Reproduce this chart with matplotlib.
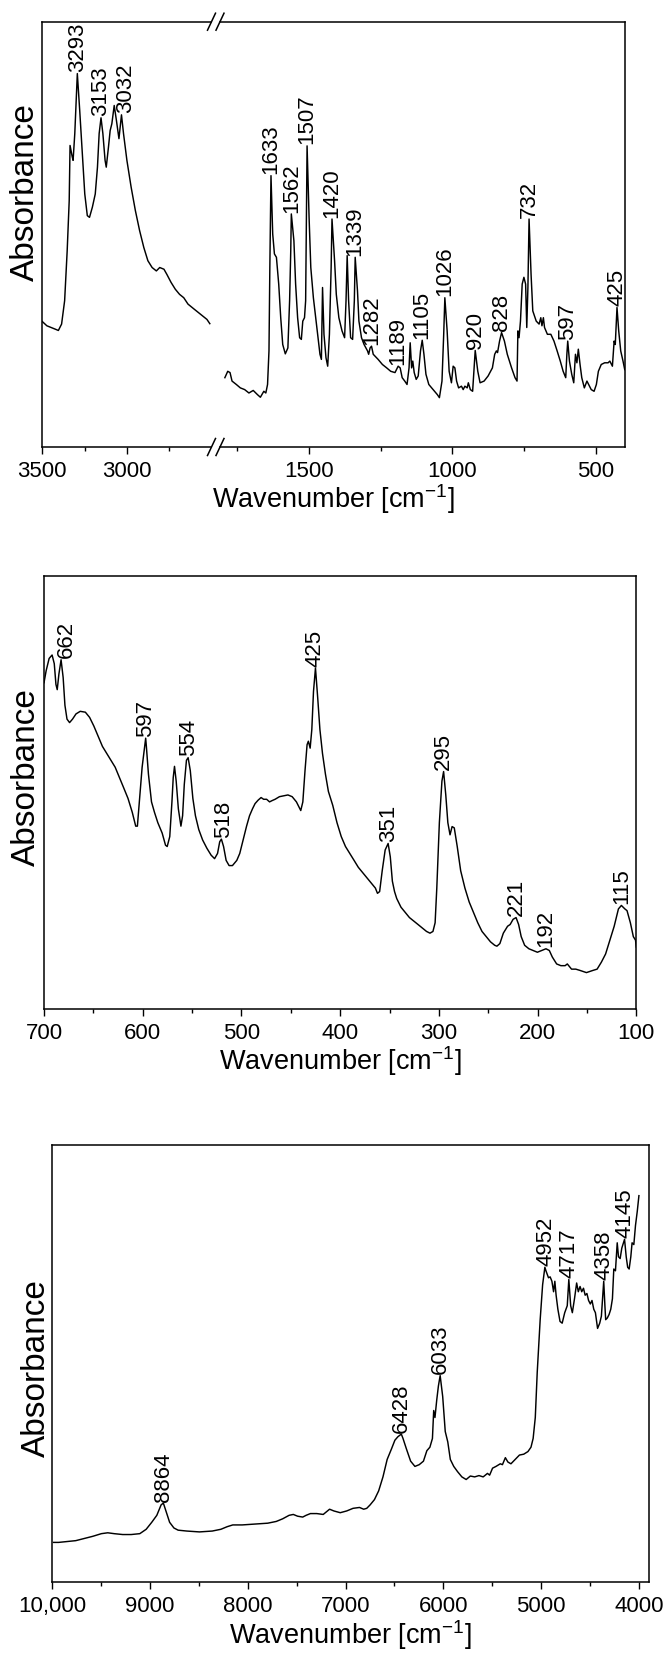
"""Три ИК-спектра (MIR с разрывом оси, FIR, NIR) с подписями пиков."""
import numpy as np
import matplotlib
matplotlib.use("Agg")
import matplotlib.pyplot as plt
from matplotlib.lines import Line2D

plt.rcParams["font.family"] = ["Liberation Sans", "DejaVu Sans"]
plt.rcParams["mathtext.fontset"] = "custom"
plt.rcParams["mathtext.rm"] = "Liberation Sans"
plt.rcParams["mathtext.it"] = "Liberation Sans:italic"
plt.rcParams["mathtext.bf"] = "Liberation Sans:bold"
plt.rcParams["mathtext.default"] = "regular"

# ---------------------------------------------------------------------------
# Data (absorbance in arbitrary units, 0..100 = frame bottom..top)
# ---------------------------------------------------------------------------

# MIR, high-wavenumber part (3500-2500)
mir_hi_wn = [3500, 3473, 3423, 3405, 3386, 3368, 3353, 3341, 3336, 3323, 3318, 3308,
             3293, 3279, 3261, 3249, 3234, 3221, 3204, 3187, 3174, 3164, 3153, 3142,
             3129, 3122, 3109, 3099, 3089, 3075, 3062, 3047, 3032, 3020, 3000, 2975,
             2950, 2925, 2900, 2876, 2851, 2826, 2806, 2781, 2764, 2739, 2714, 2689,
             2664, 2639, 2602, 2577, 2552, 2527, 2510]
mir_hi_ab = [29.5, 28.5, 27.7, 27.4, 28.9, 34.4, 46.1, 57.9, 70.9, 68.2, 67.4, 73.7,
             87.8, 79.2, 67.4, 59.5, 54.4, 54.0, 56.4, 59.5, 65.8, 73.7, 77.4, 73.7,
             67.4, 65.8, 70.5, 74.4, 76.0, 80.3, 76.8, 72.5, 78.1, 73.7, 67.4, 61.1,
             55.6, 50.9, 46.9, 43.8, 42.2, 41.4, 42.2, 41.8, 40.6, 38.7, 37.1, 35.9,
             35.1, 33.6, 32.4, 31.6, 30.8, 30.0, 29.0]

# MIR, fingerprint part (1800-400)
mir_lo_wn = [1794, 1784, 1776, 1769, 1754, 1740, 1725, 1710, 1695, 1680, 1670, 1658,
             1651, 1645, 1640, 1637, 1633, 1627, 1621, 1614, 1606, 1599, 1592, 1583,
             1574, 1568, 1564, 1562, 1553, 1547, 1540, 1533, 1527, 1522, 1516, 1512,
             1507, 1500, 1494, 1485, 1473, 1462, 1457, 1453, 1448, 1441, 1435, 1429,
             1423, 1420, 1411, 1405, 1396, 1385, 1376, 1371, 1367, 1362, 1355, 1348,
             1342, 1339, 1331, 1326, 1317, 1308, 1296, 1292, 1287, 1282, 1276, 1259,
             1244, 1229, 1215, 1200, 1189, 1182, 1175, 1166, 1158, 1151, 1147, 1142,
             1138, 1133, 1126, 1119, 1111, 1105, 1099, 1092, 1082, 1067, 1052, 1045,
             1036, 1030, 1026, 1018, 1011, 1003, 997, 991, 985, 978, 968, 962,
             956, 948, 944, 937, 929, 924, 920, 911, 903, 889, 875, 860,
             852, 846, 842, 835, 828, 818, 808, 793, 781, 774, 771, 767,
             762, 756, 750, 744, 740, 736, 732, 725, 719, 707, 697, 691,
             687, 682, 678, 668, 656, 645, 634, 623, 613, 604, 600, 597,
             591, 583, 576, 570, 565, 560, 554, 548, 539, 530, 524, 515,
             505, 497, 490, 480, 468, 456, 450, 441, 435, 431, 425, 419,
             412, 404, 398]
mir_lo_ab = [16.3, 17.8, 17.5, 15.5, 14.7, 13.9, 13.5, 12.7, 13.3, 12.3, 11.7, 13.1,
             12.7, 14.7, 22.6, 42.2, 63.8, 50.1, 45.4, 44.6, 38.3, 30.4, 24.1, 21.9,
             23.3, 34.4, 46.1, 54.8, 48.5, 38.3, 30.4, 25.7, 25.3, 29.6, 30.4, 34.4,
             70.8, 54.0, 42.2, 35.1, 28.1, 21.8, 20.6, 37.5, 26.5, 21.0, 19.0, 26.5,
             42.2, 53.6, 43.8, 35.9, 30.4, 27.3, 25.7, 34.4, 45.0, 34.4, 25.7, 25.3,
             34.4, 44.6, 36.7, 29.6, 25.7, 24.1, 22.6, 21.8, 23.3, 23.7, 21.8, 20.6,
             19.4, 18.6, 17.8, 17.5, 19.0, 18.6, 16.3, 15.5, 14.7, 18.6, 24.5, 18.6,
             20.2, 17.5, 15.9, 16.7, 22.6, 25.1, 21.8, 17.1, 14.7, 13.5, 12.3, 11.6,
             15.5, 26.5, 35.1, 27.3, 17.8, 15.1, 19.0, 18.6, 15.5, 13.9, 14.3, 13.5,
             14.3, 13.9, 15.1, 13.5, 13.1, 18.6, 22.7, 17.8, 15.1, 15.5, 16.7, 18.6,
             21.8, 22.6, 22.2, 24.9, 26.9, 24.9, 21.8, 18.6, 16.3, 15.5, 27.3, 25.7,
             29.6, 38.3, 39.9, 38.3, 28.1, 37.5, 53.6, 40.6, 32.0, 29.6, 28.9, 30.4,
             28.5, 30.4, 28.1, 26.5, 26.5, 24.9, 22.6, 20.2, 17.8, 16.3, 21.8, 24.9,
             20.2, 17.1, 15.1, 21.8, 19.8, 23.0, 19.4, 16.3, 13.9, 15.5, 14.7, 13.5,
             13.1, 14.7, 17.8, 19.4, 19.8, 19.8, 20.2, 19.0, 24.9, 24.1, 32.8, 27.3,
             22.6, 20.2, 18.2]

mir_hi_labels = ["3293", "3153", "3032"]
mir_hi_label_pos = [3293, 3153, 3005]
mir_lo_labels = ["1633", "1562", "1507", "1420", "1339", "1282", "1189", "1105",
                 "1026", "920", "828", "732", "597", "425"]
mir_lo_label_pos = [1633, 1562, 1507, 1420, 1339, 1282, 1189, 1105,
                    1026, 920, 828, 732, 597, 425]

# FIR (700-100)
fir_wn = [700, 697.8, 694.8, 691.8, 689.6, 687.9, 686.6, 684.9, 682.7, 680.6, 678.8, 676.7,
          674.1, 671.1, 667.6, 663.3, 658.1, 653.8, 649.5, 645.1, 640.8, 636.5, 632.2, 627.9,
          623.5, 619.2, 614.9, 610.6, 607.1, 605.4, 602.8, 600.6, 597, 596.3, 594.2, 591.1,
          588.1, 584.7, 580.3, 576.9, 575.2, 572.6, 570.4, 569.1, 567.8, 566.1, 563.9, 561.3,
          559.6, 557.9, 555.7, 554.0, 551.8, 549.2, 546.6, 543.2, 539.3, 535.0, 530.7, 527.2,
          524.2, 522.0, 520.3, 518.1, 515.5, 512.5, 509.1, 504.7, 501.7, 498.3, 494.8, 491.8,
          488.8, 486.2, 483.1, 480.1, 477.5, 474.5, 471.5, 468.9, 465.9, 461.5, 457.2, 452.9,
          448.6, 444.3, 439.9, 437.8, 435.6, 433.5, 432.2, 430.4, 428.7, 427.0, 425, 422.7,
          420.5, 417.9, 414.9, 411.9, 407.5, 403.2, 398.9, 394.6, 390.2, 385.9, 381.6, 377.3,
          373.0, 368.7, 364.3, 362.2, 360.0, 357.4, 354.4, 351.4, 349.2, 347.1, 344.9, 342.7,
          338.4, 334.1, 329.8, 325.4, 321.1, 316.8, 312.5, 309.0, 306.0, 303.8, 302.1, 299.5,
          296.9, 295.2, 293.0, 290.9, 288.7, 286.6, 284.4, 281.4, 277.9, 273.6, 269.3, 264.9,
          260.6, 256.3, 252.0, 247.7, 243.4, 241.2, 238.2, 234.7, 230.4, 227.8, 224.8, 221.8,
          219.2, 216.6, 213.1, 208.8, 204.5, 200.2, 195.9, 191.5, 188.1, 185.1, 180.7, 176.4,
          172.1, 169.9, 165.6, 161.3, 157.0, 150.5, 144.0, 139.7, 135.4, 131.1, 126.7, 122.4,
          118.1, 115.1, 111.6, 109.4, 106.0, 103.0, 100.8, 100]
fir_ab = [75.3, 78.1, 80.9, 81.7, 79.7, 74.9, 73.7, 77.3, 80.6, 76.5, 70.1, 66.9,
          66.1, 66.9, 68.1, 68.7, 68.5, 67.3, 65.3, 62.9, 60.6, 59.0, 57.4, 55.8,
          53.4, 51.0, 48.6, 45.4, 42.2, 42.2, 49.4, 55.8, 62.5, 60.6, 54.2, 47.8,
          45.4, 43.0, 40.6, 37.8, 37.5, 39.8, 47.8, 53.4, 56.0, 52.6, 46.2, 42.2,
          44.6, 51.8, 57.4, 58.0, 55.0, 48.6, 44.6, 41.4, 39.0, 37.1, 35.5, 34.7,
          35.9, 38.6, 39.2, 37.5, 34.3, 33.1, 33.1, 34.3, 35.9, 39.0, 42.2, 44.6,
          46.2, 47.4, 48.2, 48.8, 48.4, 48.4, 47.8, 48.1, 48.4, 49.0, 49.2, 49.4,
          49.0, 47.8, 45.8, 47.8, 55.0, 61.0, 61.8, 60.2, 64.5, 73.3, 78.7, 71.7,
          64.5, 59.0, 54.2, 50.2, 47.0, 43.0, 39.8, 37.5, 35.9, 34.3, 32.7, 31.5,
          30.3, 29.1, 27.9, 26.7, 27.1, 31.9, 36.7, 38.2, 35.1, 29.5, 27.1, 25.5,
          23.5, 22.3, 21.1, 20.3, 19.5, 18.7, 17.9, 17.5, 17.9, 19.9, 27.9, 43.0,
          52.6, 54.8, 49.4, 43.0, 40.2, 42.1, 41.8, 37.5, 31.9, 27.9, 24.7, 22.3,
          19.9, 17.9, 16.7, 15.5, 14.7, 14.5, 15.1, 17.5, 19.1, 19.5, 20.7, 21.1,
          19.5, 16.7, 14.7, 13.9, 13.5, 13.1, 13.5, 13.9, 13.5, 12.0, 10.4, 10.0,
          10.0, 10.4, 9.2, 9.2, 8.9, 8.4, 8.9, 9.2, 10.8, 12.7, 15.9, 19.1,
          23.1, 23.9, 23.1, 22.7, 19.9, 16.7, 15.9, 14.3]

fir_labels = ["662", "597", "554", "518", "425", "351", "295", "221", "192", "115"]
fir_label_pos = [677, 597, 554, 518, 425, 351, 295, 221, 192, 115]

# NIR (10000-4000)
nir_wn = [9987, 9935, 9847, 9760, 9673, 9585, 9498, 9433, 9367, 9280, 9193, 9105,
          9040, 8983, 8931, 8887, 8864, 8835, 8800, 8756, 8713, 8625, 8495, 8364,
          8276, 8211, 8154, 8058, 7927, 7796, 7709, 7644, 7578, 7535, 7491, 7439,
          7404, 7360, 7295, 7229, 7164, 7120, 7055, 6989, 6924, 6858, 6815, 6784,
          6749, 6705, 6662, 6618, 6575, 6531, 6496, 6465, 6430, 6413, 6378, 6335,
          6291, 6247, 6204, 6169, 6138, 6112, 6099, 6086, 6068, 6051, 6033, 6007,
          5981, 5955, 5929, 5894, 5855, 5811, 5767, 5724, 5680, 5636, 5593, 5549,
          5527, 5497, 5462, 5418, 5396, 5366, 5340, 5309, 5265, 5222, 5178, 5135,
          5104, 5082, 5060, 5040, 5010, 4985, 4962, 4951, 4925, 4908, 4890, 4873,
          4860, 4847, 4829, 4807, 4785, 4759, 4733, 4717, 4698, 4681, 4659, 4637,
          4620, 4602, 4585, 4567, 4550, 4532, 4515, 4497, 4480, 4462, 4445, 4423,
          4401, 4384, 4360, 4348, 4340, 4323, 4305, 4288, 4271, 4257, 4240, 4222,
          4209, 4192, 4175, 4147, 4130, 4115, 4100, 4083, 4070, 4052, 4035, 4017,
          4000]
nir_ab = [9.0, 9.0, 9.2, 9.4, 9.9, 10.4, 11.0, 11.2, 11.0, 10.8, 10.8, 11.0,
          12.0, 13.6, 15.2, 17.6, 18.0, 16.0, 13.6, 12.3, 11.8, 11.6, 11.4, 11.6,
          12.0, 12.6, 13.0, 13.0, 13.2, 13.4, 13.8, 14.4, 15.2, 15.4, 15.0, 14.8,
          15.2, 15.6, 15.6, 15.4, 16.6, 16.2, 15.8, 16.2, 16.8, 17.0, 16.6, 16.8,
          17.6, 18.8, 20.8, 24.0, 28.0, 30.4, 32.4, 33.2, 33.8, 32.8, 30.4, 27.6,
          26.4, 26.8, 27.6, 30.0, 30.8, 32.8, 39.2, 37.6, 41.6, 44.8, 47.2, 42.4,
          34.4, 32.0, 28.0, 26.4, 25.2, 24.0, 23.4, 24.2, 24.0, 24.3, 24.0, 24.8,
          24.4, 26.0, 26.4, 27.0, 26.8, 28.4, 27.4, 27.0, 28.0, 29.0, 29.2, 29.8,
          30.8, 32.8, 37.6, 48.0, 60.0, 68.0, 72.0, 71.2, 69.6, 69.8, 68.8, 66.4,
          68.8, 65.6, 62.4, 59.6, 59.2, 61.6, 63.2, 69.2, 63.2, 61.6, 64.8, 68.4,
          66.4, 67.6, 66.4, 67.2, 65.6, 66.0, 64.4, 63.6, 64.4, 62.4, 61.6, 58.0,
          59.2, 60.8, 68.8, 63.2, 60.0, 60.4, 61.2, 62.4, 64.8, 71.6, 71.2, 77.6,
          74.4, 74.0, 76.4, 78.4, 74.4, 72.0, 71.6, 74.4, 77.6, 77.2, 81.6, 84.8,
          88.4]

nir_labels = ["8864", "6428", "6033", "4952", "4717", "4358", "4145"]
nir_label_pos = [8864, 6428, 6033, 4952, 4717, 4358, 4145]

# ---------------------------------------------------------------------------
# Layout helpers (pixel geometry of the 668x1657 canvas)
# ---------------------------------------------------------------------------

W, H = 668, 1657
fig = plt.figure(figsize=(W / 100, H / 100), dpi=100)

LW_FRAME = 1.1
LW_CURVE = 1.05
TICK_FS = 16
XLABEL_FS = 19.5
YLABEL_FS = 24
PEAK_FS = 16


def add_axes_px(left, top, right, bottom):
    return fig.add_axes([left / W, 1 - bottom / H, (right - left) / W, (bottom - top) / H])


def style_axes(ax, major, minor, ticklabels=None):
    ax.set_ylim(0, 100)
    ax.set_yticks([])
    ax.set_xticks(major)
    if ticklabels is not None:
        ax.set_xticklabels(ticklabels)
    ax.set_xticks(minor, minor=True)
    ax.tick_params(axis="x", which="major", direction="out", length=5, width=1.0,
                   pad=5, labelsize=TICK_FS)
    ax.tick_params(axis="x", which="minor", direction="out", length=3, width=1.0)
    for sp in ax.spines.values():
        sp.set_linewidth(LW_FRAME)


def label_peaks(ax, wn, ab, labels, positions, win):
    wn = np.asarray(wn, dtype=float)
    ab = np.asarray(ab, dtype=float)
    for text, pos in zip(labels, positions):
        near = np.abs(wn - pos) <= win
        top = ab[near].max()
        ax.annotate(text, (pos, top), xytext=(0, 1.0), textcoords="offset points",
                    rotation=90, ha="center", va="bottom", fontsize=PEAK_FS)


def break_mark(x_px, y_px):
    dx, dy = 4.0, 8.5
    fig.add_artist(Line2D([(x_px - dx) / W, (x_px + dx) / W],
                          [1 - (y_px + dy) / H, 1 - (y_px - dy) / H],
                          transform=fig.transFigure, color="black", lw=LW_FRAME))


# ---------------------------------------------------------------------------
# Panel 1: MIR with broken axis
# ---------------------------------------------------------------------------

p1_top, p1_bot = 21.7, 447.0
ax_a = add_axes_px(42.3, p1_top, 211.5, p1_bot)
ax_b = add_axes_px(220.0, p1_top, 625.3, p1_bot)

ax_a.plot(mir_hi_wn, mir_hi_ab, color="black", lw=LW_CURVE)
ax_a.set_xlim(3500, 2500)
style_axes(ax_a, [3500, 3000], [3250, 2750])
ax_a.spines["right"].set_visible(False)

ax_b.plot(mir_lo_wn, mir_lo_ab, color="black", lw=LW_CURVE)
ax_b.set_xlim(1811, 396)
style_axes(ax_b, [1500, 1000, 500], [1750, 1250, 750])
ax_b.spines["left"].set_visible(False)

label_peaks(ax_a, mir_hi_wn, mir_hi_ab, mir_hi_labels, mir_hi_label_pos, 30)
label_peaks(ax_b, mir_lo_wn, mir_lo_ab, mir_lo_labels, mir_lo_label_pos, 8)

for xb in (211.5, 220.0):
    break_mark(xb, p1_top)
    break_mark(xb, p1_bot)

ax_a.set_ylabel("Absorbance", fontsize=YLABEL_FS)
ax_a.yaxis.set_label_coords(-1.0 / 169.2, 0.60)
ax_b.set_xlabel("Wavenumber [cm$^{-1}$]", fontsize=XLABEL_FS)
ax_b.xaxis.set_label_coords((333.8 - 220.0) / 405.3, -35 / 425.3)

# ---------------------------------------------------------------------------
# Panel 2: FIR
# ---------------------------------------------------------------------------

ax2 = add_axes_px(44.0, 575.7, 636.3, 1009.0)
ax2.plot(fir_wn, fir_ab, color="black", lw=LW_CURVE)
ax2.set_xlim(700, 100)
style_axes(ax2, [700, 600, 500, 400, 300, 200, 100],
           [650, 550, 450, 350, 250, 150])
label_peaks(ax2, fir_wn, fir_ab, fir_labels, fir_label_pos, 8)
ax2.set_ylabel("Absorbance", fontsize=YLABEL_FS)
ax2.yaxis.set_label_coords(-2.0 / 592.3, 0.535)
ax2.set_xlabel("Wavenumber [cm$^{-1}$]", fontsize=XLABEL_FS)
ax2.xaxis.set_label_coords(0.5, -35 / 433.3)

# ---------------------------------------------------------------------------
# Panel 3: NIR
# ---------------------------------------------------------------------------

ax3 = add_axes_px(52.3, 1145.0, 648.7, 1581.7)
ax3.plot(nir_wn, nir_ab, color="black", lw=LW_CURVE)
ax3.set_xlim(10000, 3900)
style_axes(ax3, [10000, 9000, 8000, 7000, 6000, 5000, 4000],
           [9500, 8500, 7500, 6500, 5500, 4500],
           ["10,000", "9000", "8000", "7000", "6000", "5000", "4000"])
label_peaks(ax3, nir_wn, nir_ab, nir_labels, nir_label_pos, 30)
ax3.set_ylabel("Absorbance", fontsize=YLABEL_FS)
ax3.yaxis.set_label_coords(0.0, 0.49)
ax3.set_xlabel("Wavenumber [cm$^{-1}$]", fontsize=XLABEL_FS)
ax3.xaxis.set_label_coords(0.5, -36 / 436.7)

fig.savefig("out.png", dpi=100)
plt.close(fig)
